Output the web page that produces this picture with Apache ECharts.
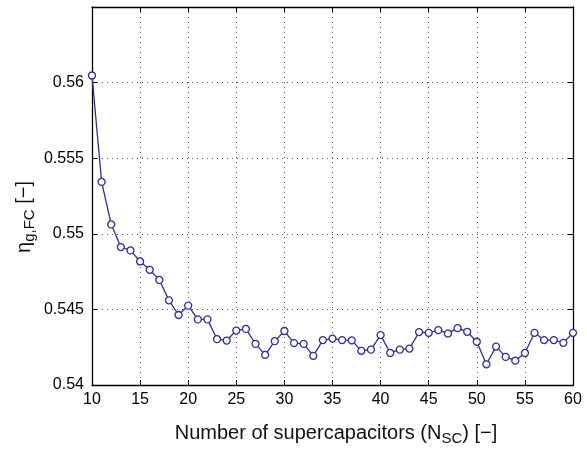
<!DOCTYPE html>
<html>
<head>
<meta charset="utf-8">
<script src="https://cdn.jsdelivr.net/npm/echarts@6/dist/echarts.min.js"></script>
<style>
  html, body { margin: 0; padding: 0; background: #fff; }
  #chart { width: 587px; height: 450px; }
</style>
</head>
<body>
<div id="chart"></div>
<script>
// Number of supercapacitors
const nSC = [10, 11, 12, 13, 14, 15, 16, 17, 18, 19, 20, 21, 22, 23, 24, 25, 26, 27, 28, 29, 30,
  31, 32, 33, 34, 35, 36, 37, 38, 39, 40, 41, 42, 43, 44, 45, 46, 47, 48, 49, 50,
  51, 52, 53, 54, 55, 56, 57, 58, 59, 60];
// Fuel cell global efficiency
const etaFC = [0.56047, 0.55343, 0.55062, 0.54912, 0.54890, 0.54817, 0.54762, 0.54695, 0.54560, 0.54463, 0.54525,
  0.54434, 0.54434, 0.54303, 0.54294, 0.54360, 0.54371, 0.54272, 0.54199, 0.54290, 0.54357,
  0.54277, 0.54272, 0.54193, 0.54297, 0.54307, 0.54297, 0.54295, 0.54226, 0.54234, 0.54330,
  0.54212, 0.54234, 0.54241, 0.54350, 0.54345, 0.54363, 0.54341, 0.54376, 0.54352, 0.54286,
  0.54137, 0.54254, 0.54186, 0.54161, 0.54212, 0.54345, 0.54297, 0.54297, 0.54279, 0.54345];
const xTicks = [10, 15, 20, 25, 30, 35, 40, 45, 50, 55, 60];
const yTicks = [0.54, 0.545, 0.55, 0.555, 0.56];

const chart = echarts.init(document.getElementById('chart'), null, { renderer: 'canvas' });
const font = 'Liberation Sans, Arial, Helvetica, sans-serif';
const gridLine = { show: true, lineStyle: { color: '#555', type: [1, 4], width: 1 } };
const frame = { show: true, onZero: false, lineStyle: { color: '#000', width: 1.3 } };
const tick = { show: true, inside: true, length: 5, lineStyle: { color: '#000', width: 1 } };

chart.setOption({
  animation: false,
  backgroundColor: '#fff',
  grid: { left: 92, right: 14, top: 7, bottom: 65, containLabel: false, outerBoundsMode: 'none' },
  xAxis: [{
    type: 'value', min: 10, max: 60, interval: 5,
    axisLine: frame, axisTick: tick, splitLine: gridLine,
    axisLabel: { color: '#000', fontSize: 16, fontFamily: font, margin: 7,
      formatter: v => xTicks.includes(v) ? String(v) : '' }
  }, {
    type: 'value', min: 10, max: 60, interval: 5, position: 'top',
    axisLine: frame, axisTick: tick, splitLine: { show: false }, axisLabel: { show: false }
  }],
  yAxis: [{
    type: 'value', min: 0.54, max: 0.565, interval: 0.005,
    axisLine: frame, axisTick: tick, splitLine: gridLine,
    axisLabel: { color: '#000', fontSize: 16, fontFamily: font, margin: 8, showMaxLabel: false,
      formatter: v => {
        const r = Math.round(v * 1000) / 1000;
        return yTicks.some(t => Math.abs(t - r) < 1e-9) ? String(r) : '';
      } }
  }, {
    type: 'value', min: 0.54, max: 0.565, interval: 0.005, position: 'right',
    axisLine: frame, axisTick: tick, splitLine: { show: false }, axisLabel: { show: false }
  }],
  graphic: [{
    // horizontal axis title: Number of supercapacitors (N_SC) [−]
    type: 'text', x: 336, y: 433,
    style: {
      text: '{t|Number of supercapacitors (N}{s|SC}{t|) [−]}',
      align: 'center', verticalAlign: 'middle',
      rich: {
        t: { fontSize: 20, fontFamily: font, fill: '#111' },
        s: { fontSize: 15, fontFamily: font, fill: '#111', padding: [12, 0, 0, 0] }
      }
    }
  }, {
    // vertical axis title: η_{g,FC} [−]
    type: 'text', x: 24, y: 217, rotation: Math.PI / 2,
    style: {
      text: '{t|η}{s|g,FC}{t| [−]}',
      align: 'center', verticalAlign: 'middle',
      rich: {
        t: { fontSize: 20, fontFamily: font, fill: '#111' },
        s: { fontSize: 15, fontFamily: font, fill: '#111', padding: [12, 0, 0, 0] }
      }
    }
  }],
  series: [{
    type: 'line',
    data: nSC.map((n, i) => [n, etaFC[i]]),
    symbol: 'circle', symbolSize: 7,
    lineStyle: { color: '#2e2e8e', width: 1.3 },
    itemStyle: { color: '#fff', borderColor: '#2e2e8e', borderWidth: 1.3 },
    clip: false
  }]
});
</script>
</body>
</html>
